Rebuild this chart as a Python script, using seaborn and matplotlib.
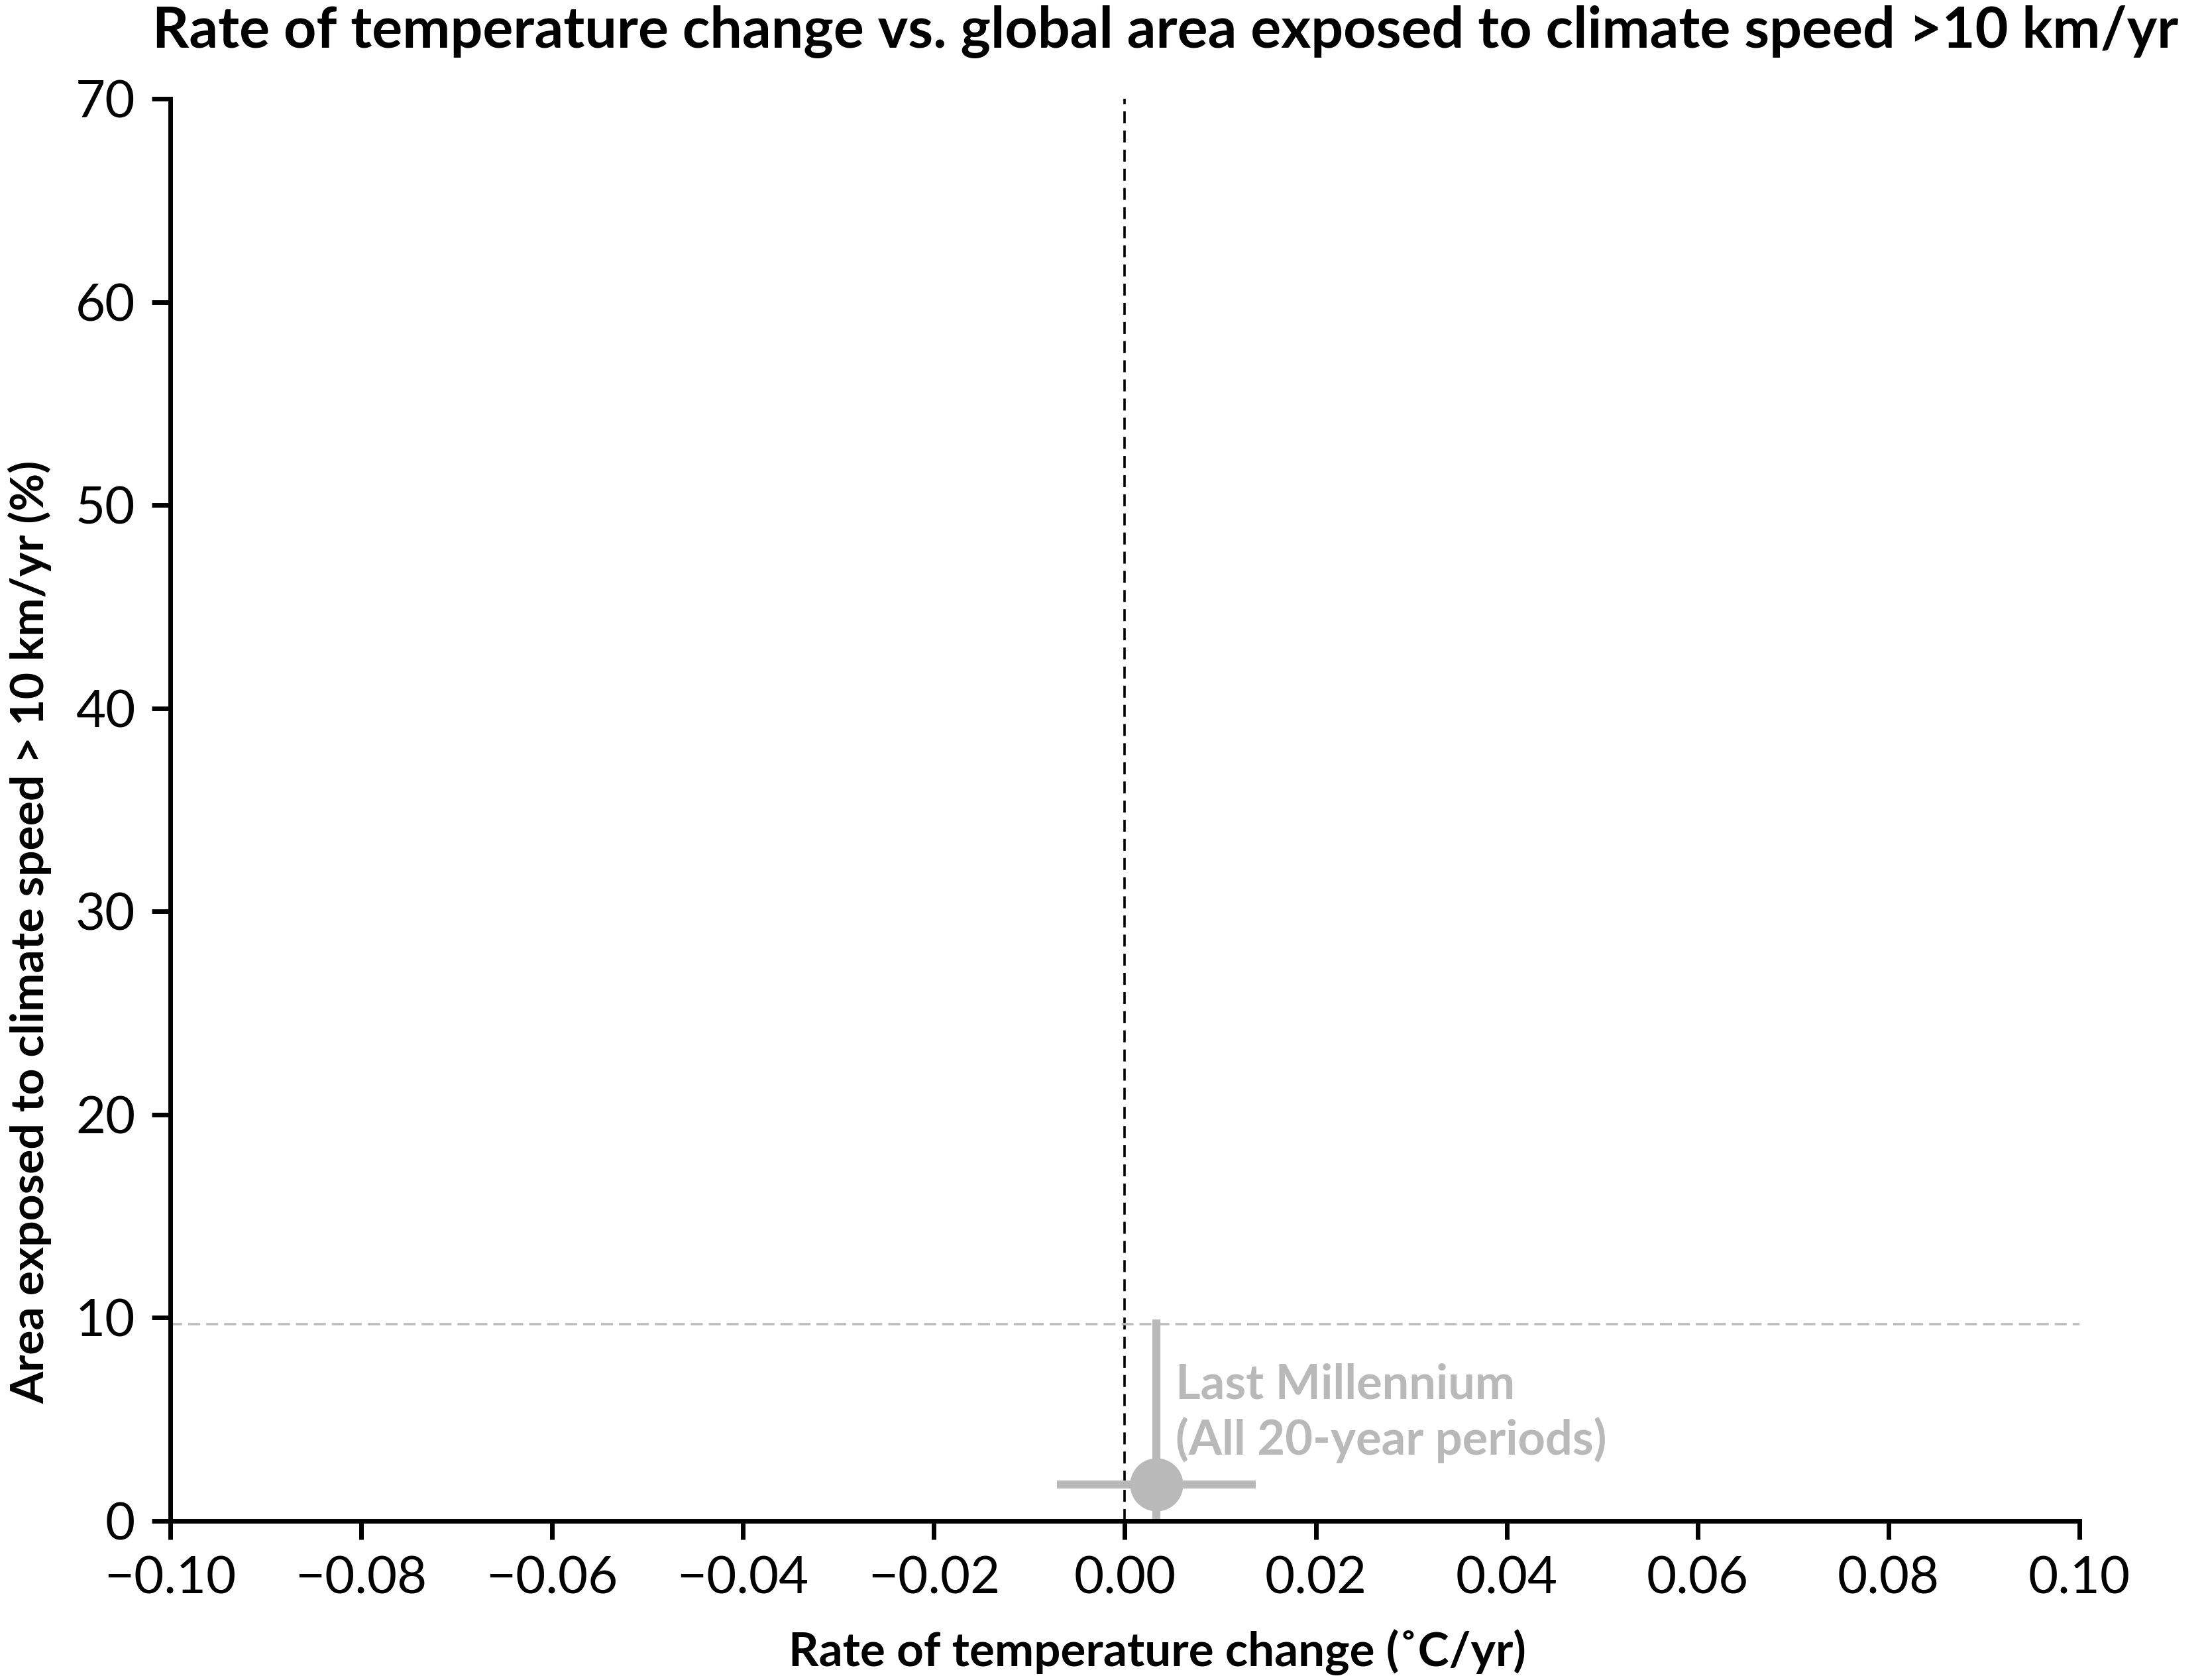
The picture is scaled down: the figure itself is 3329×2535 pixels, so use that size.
#!/usr/bin/env python3
"""Rate of temperature change vs. area exposed to climate speed > 10 km/yr."""

import matplotlib
matplotlib.use("Agg")
import matplotlib.pyplot as plt
import seaborn as sns
import pandas as pd
import numpy as np

# --- datos ---
periods = ["Last Millennium\n(All 20-year periods)"]
rate_c_per_yr = [0.0033]
rate_err_low = [-0.0071]
rate_err_high = [0.0137]
area_pct = [1.8]
area_err_low = [0.0]
area_err_high = [9.9]
reference_area = 9.7  # línea horizontal discontinua

x_ticks = [-0.10, -0.08, -0.06, -0.04, -0.02, 0.00, 0.02, 0.04, 0.06, 0.08, 0.10]
y_ticks = [0, 10, 20, 30, 40, 50, 60, 70]

GREY = "#b9b9b9"

sns.set_theme(style="ticks")
plt.rcParams["font.family"] = ["Lato", "DejaVu Sans"]
plt.rcParams["axes.unicode_minus"] = True
plt.rcParams["text.color"] = "black"
plt.rcParams["axes.labelcolor"] = "black"

df = pd.DataFrame({"period": periods, "rate": rate_c_per_yr, "area": area_pct})

fig = plt.figure(figsize=(3329 / 200, 2535 / 200), dpi=200)
ax = fig.add_axes([0.0772, 0.0947, 0.9426 - 0.0772, 0.9412 - 0.0947])

# líneas de referencia
ax.axvline(0, color="black", lw=1.3, ls=(0, (5, 3)), zorder=1)
ax.axhline(reference_area, color="#bdbdbd", lw=1.3, ls=(0, (5, 2.5)), zorder=1)

# barras de error
xerr = np.array([[r - lo for r, lo in zip(rate_c_per_yr, rate_err_low)],
                 [hi - r for r, hi in zip(rate_c_per_yr, rate_err_high)]])
yerr = np.array([[a - lo for a, lo in zip(area_pct, area_err_low)],
                 [hi - a for a, hi in zip(area_pct, area_err_high)]])
ax.errorbar(rate_c_per_yr, area_pct, xerr=xerr, yerr=yerr, fmt="none",
            ecolor=GREY, elinewidth=4.4, capsize=0, zorder=2)

sns.scatterplot(data=df, x="rate", y="area", s=830, color=GREY,
                linewidth=0, ax=ax, zorder=3, legend=False)

for _, row in df.iterrows():
    ax.text(row["rate"] + 0.002, 5.3, row["period"], color=GREY,
            fontsize=26, fontweight="bold", va="center", ha="left",
            linespacing=1.25)

ax.set_xlim(-0.10, 0.10)
ax.set_ylim(0, 70)
ax.set_xticks(x_ticks)
ax.set_xticklabels([f"{t:.2f}".replace("-", "\u2212") for t in x_ticks])
ax.set_yticks(y_ticks)
ax.set_yticklabels([str(t) for t in y_ticks])

for side in ["top", "right"]:
    ax.spines[side].set_visible(False)
for side in ["left", "bottom"]:
    ax.spines[side].set_linewidth(2.5)
    ax.spines[side].set_color("black")

ax.tick_params(axis="both", length=10, width=2.5, color="black",
               labelsize=28, pad=9, labelcolor="black")

ax.set_xlabel("Rate of temperature change (\u02daC/yr)", fontsize=25.5,
              fontweight="bold")
ax.xaxis.set_label_coords(0.517, -0.076)
ax.set_ylabel("Area exposed to climate speed > 10 km/yr (%)", fontsize=25,
              fontweight="bold")
ax.yaxis.set_label_coords(-0.062, 0.414)

fig.text(0.069, 0.981, "Rate of temperature change vs. global area exposed to climate speed >10 km/yr",
         fontsize=31, fontweight="bold", ha="left", va="center")

fig.savefig("out.png", dpi=200, facecolor="white")
plt.close(fig)
